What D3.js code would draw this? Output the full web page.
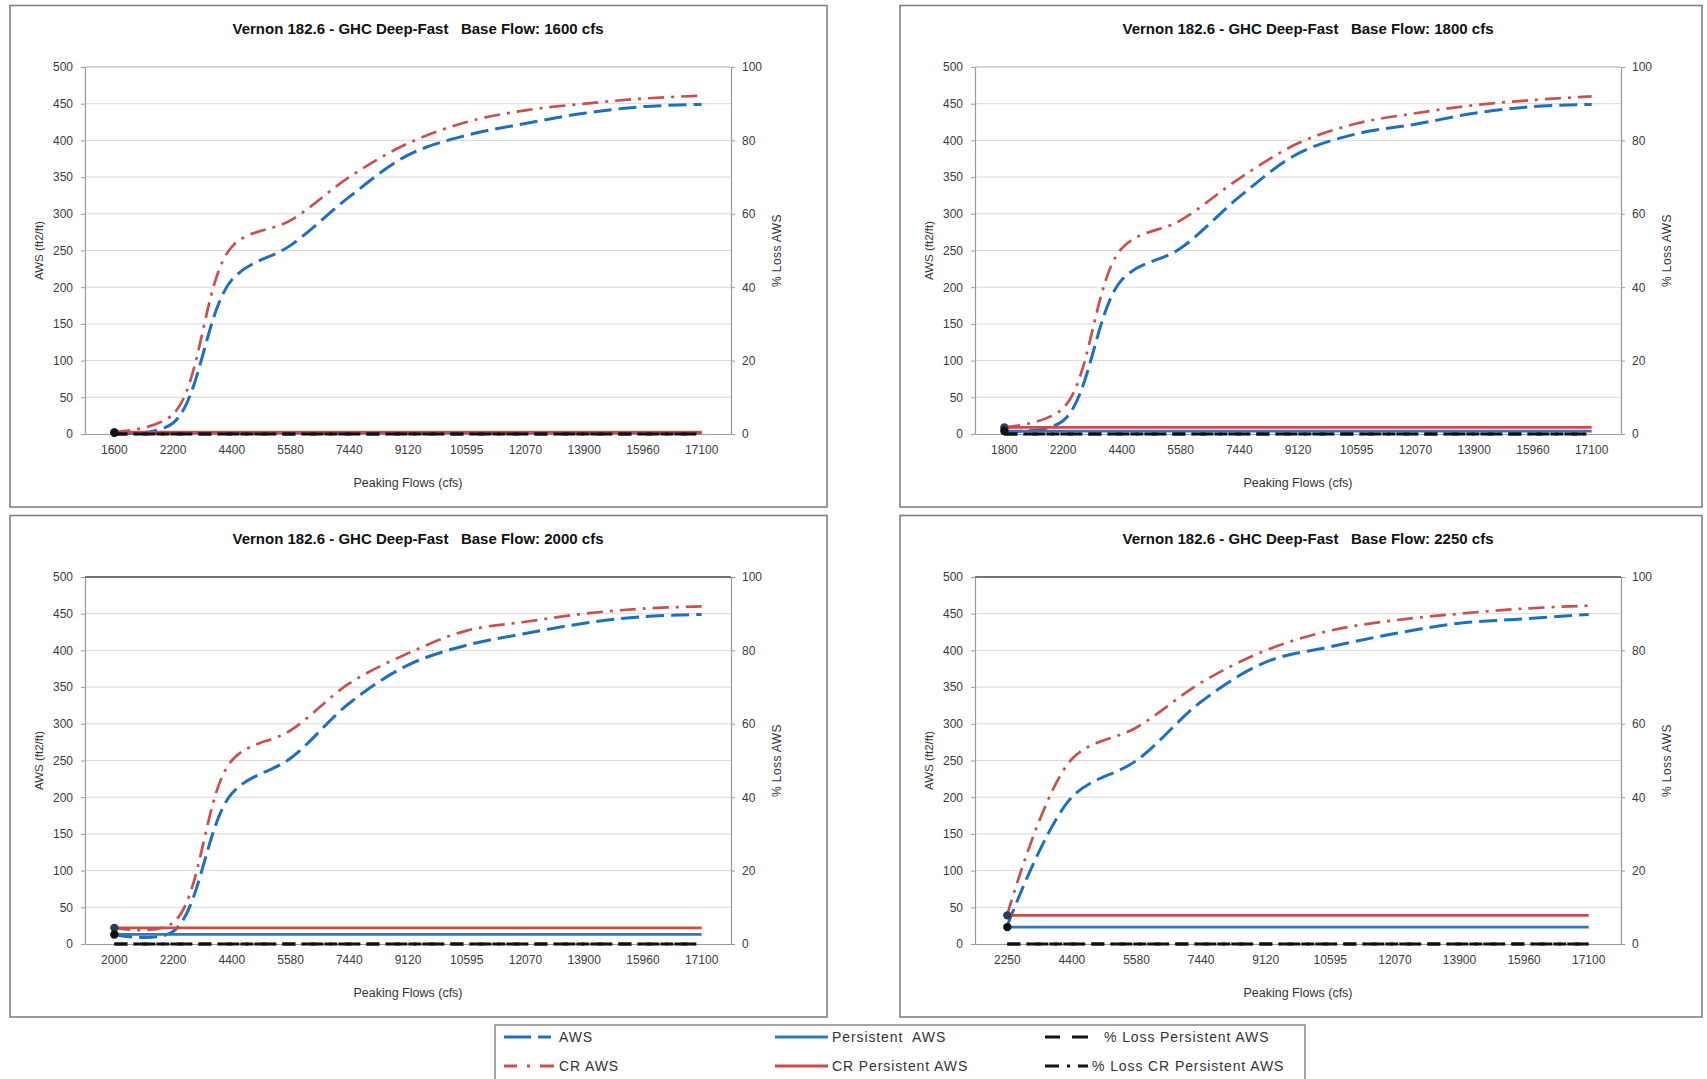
<!DOCTYPE html>
<html><head><meta charset="utf-8">
<script src="https://cdn.jsdelivr.net/npm/d3@7"></script>
<style>
html,body{margin:0;padding:0;background:#fff;}
svg{display:block;}
text{font-family:"Liberation Sans",Arial,sans-serif;white-space:pre;}
</style></head><body>
<svg id="chart" width="1707" height="1079"></svg>
<script>
// ---------------- DATA ----------------
const categories1600 = ["1600","2200","4400","5580","7440","9120","10595","12070","13900","15960","17100"];
const categories1800 = ["1800","2200","4400","5580","7440","9120","10595","12070","13900","15960","17100"];
const categories2000 = ["2000","2200","4400","5580","7440","9120","10595","12070","13900","15960","17100"];
const categories2250 = ["2250","4400","5580","7440","9120","10595","12070","13900","15960","17100"];

const aws1600 = [1, 15, 210, 257, 323, 380, 407, 423, 437, 446, 449];
const crAws1600 = [2.5, 27, 255, 291, 350, 396, 425, 441, 450, 457, 461];
const persistent1600 = [1.5, 1.5, 1.5, 1.5, 1.5, 1.5, 1.5, 1.5, 1.5, 1.5, 1.5];
const crPersistent1600 = [2.5, 2.5, 2.5, 2.5, 2.5, 2.5, 2.5, 2.5, 2.5, 2.5, 2.5];
const lossPersistent1600 = [0, 0, 0, 0, 0, 0, 0, 0, 0, 0, 0];
const lossCrPersistent1600 = [0, 0, 0, 0, 0, 0, 0, 0, 0, 0, 0];

const aws1800 = [4, 18, 210, 253, 323, 382, 409, 422, 437, 446, 449];
const crAws1800 = [9, 35, 253, 291, 348, 396, 423, 437, 448, 455, 460];
const persistent1800 = [4, 4, 4, 4, 4, 4, 4, 4, 4, 4, 4];
const crPersistent1800 = [9, 9, 9, 9, 9, 9, 9, 9, 9, 9, 9];
const lossPersistent1800 = [0, 0, 0, 0, 0, 0, 0, 0, 0, 0, 0];
const lossCrPersistent1800 = [0, 0, 0, 0, 0, 0, 0, 0, 0, 0, 0];

const aws2000 = [13, 17, 205, 253, 328, 380, 407, 423, 437, 446, 449];
const crAws2000 = [22, 29, 250, 291, 355, 396, 427, 439, 450, 457, 460];
const persistent2000 = [13, 13, 13, 13, 13, 13, 13, 13, 13, 13, 13];
const crPersistent2000 = [22, 22, 22, 22, 22, 22, 22, 22, 22, 22, 22];
const lossPersistent2000 = [0, 0, 0, 0, 0, 0, 0, 0, 0, 0, 0];
const lossCrPersistent2000 = [0, 0, 0, 0, 0, 0, 0, 0, 0, 0, 0];

const aws2250 = [25, 200, 250, 330, 384, 405, 423, 437, 443, 449];
const crAws2250 = [40, 252, 295, 356, 400, 427, 441, 450, 457, 461];
const persistent2250 = [23, 23, 23, 23, 23, 23, 23, 23, 23, 23];
const crPersistent2250 = [39, 39, 39, 39, 39, 39, 39, 39, 39, 39];
const lossPersistent2250 = [0, 0, 0, 0, 0, 0, 0, 0, 0, 0];
const lossCrPersistent2250 = [0, 0, 0, 0, 0, 0, 0, 0, 0, 0];

const baseFlows = ["1600", "1800", "2000", "2250"];
const awsTicks = [0, 50, 100, 150, 200, 250, 300, 350, 400, 450, 500];
const lossTicks = [0, 20, 40, 60, 80, 100];
const seriesNames = ["AWS", "CR AWS", "Persistent  AWS", "CR Persistent AWS", "% Loss Persistent AWS", "% Loss CR Persistent AWS"];

const panelsData = [
  {base: baseFlows[0], categories: categories1600, series: [aws1600, crAws1600, persistent1600, crPersistent1600, lossPersistent1600, lossCrPersistent1600]},
  {base: baseFlows[1], categories: categories1800, series: [aws1800, crAws1800, persistent1800, crPersistent1800, lossPersistent1800, lossCrPersistent1800]},
  {base: baseFlows[2], categories: categories2000, series: [aws2000, crAws2000, persistent2000, crPersistent2000, lossPersistent2000, lossCrPersistent2000]},
  {base: baseFlows[3], categories: categories2250, series: [aws2250, crAws2250, persistent2250, crPersistent2250, lossPersistent2250, lossCrPersistent2250]}
];

// ---------------- STYLE / LAYOUT ----------------
const seriesStyle = [
  {color: "#1f6fc0", width: 3, dash: "18,7", axis: 0, curve: true},
  {color: "#c8504f", width: 2.7, dash: "16,7,3,7", axis: 0, curve: true},
  {color: "#2a78c2", width: 2.8, dash: null, axis: 0, curve: false},
  {color: "#cc4a4a", width: 2.8, dash: null, axis: 0, curve: false},
  {color: "#111111", width: 2.8, dash: "13,8", axis: 1, curve: false},
  {color: "#111111", width: 2.8, dash: "13,6,3,6", axis: 1, curve: false}
];
const layouts = [
  {dx: 0,   dy: 0,   bw: 817, topColor: "#c4c4c4"},
  {dx: 890, dy: 0,   bw: 802, topColor: "#c4c4c4"},
  {dx: 0,   dy: 510, bw: 817, topColor: "#444444"},
  {dx: 890, dy: 510, bw: 802, topColor: "#444444"}
];

const svg = d3.select("#chart");

function drawPanel(d, L) {
  const g = svg.append("g").attr("transform", `translate(${L.dx},${L.dy})`);
  const left = 85, right = 731, top = 67, bottom = 434;

  g.append("rect").attr("x", 10).attr("y", 5.5).attr("width", L.bw).attr("height", 501.5)
    .attr("fill", "#fff").attr("stroke", "#808080").attr("stroke-width", 1.6);

  const x = d3.scaleBand().domain(d.categories).range([left, right]);
  const cx = c => x(c) + x.bandwidth() / 2;
  const y = d3.scaleLinear().domain([0, 500]).range([bottom, top]);
  const y2 = d3.scaleLinear().domain([0, 100]).range([bottom, top]);

  // gridlines
  g.append("g").selectAll("line").data(awsTicks.filter(t => t > 0 && t < 500)).join("line")
    .attr("x1", left).attr("x2", right).attr("y1", t => y(t)).attr("y2", t => y(t))
    .attr("stroke", "#d9d9d9").attr("stroke-width", 1);
  g.append("line").attr("x1", left).attr("x2", right).attr("y1", y(500)).attr("y2", y(500))
    .attr("stroke", L.topColor).attr("stroke-width", 1.3);

  // axes
  const ax = g.append("g").attr("transform", `translate(${left},0)`)
    .call(d3.axisLeft(y).tickValues(awsTicks).tickSize(4).tickSizeOuter(0).tickPadding(8));
  const ax2 = g.append("g").attr("transform", `translate(${right},0)`)
    .call(d3.axisRight(y2).tickValues(lossTicks).tickSize(4).tickSizeOuter(0).tickPadding(7));
  const axb = g.append("g").attr("transform", `translate(0,${bottom})`)
    .call(d3.axisBottom(x).tickSize(0).tickPadding(11));
  [ax, ax2, axb].forEach(a => {
    a.select(".domain").attr("stroke", "#9a9a9a").attr("stroke-width", 1.2);
    a.selectAll(".tick line").attr("stroke", "#9a9a9a");
    a.selectAll("text").attr("fill", "#3a3a3a").style("font-size", "12px")
      .style("font-family", '"Liberation Sans", Arial, sans-serif');
  });

  // series
  d.series.forEach((vals, si) => {
    const st = seriesStyle[si];
    const sc = st.axis === 0 ? y : y2;
    const line = d3.line().x((v, i) => cx(d.categories[i])).y(v => sc(v))
      .curve(st.curve ? d3.curveCatmullRom.alpha(0.5) : d3.curveLinear);
    g.append("path").datum(vals).attr("d", line).attr("fill", "none")
      .attr("stroke", st.color).attr("stroke-width", st.width)
      .attr("stroke-dasharray", st.dash).attr("stroke-linecap", "butt");
  });

  // first-point markers
  const c0 = d.categories[0];
  g.append("circle").attr("cx", cx(c0)).attr("cy", y(d.series[3][0])).attr("r", 4.2).attr("fill", "#2d3b55");
  g.append("circle").attr("cx", cx(c0)).attr("cy", y(d.series[2][0])).attr("r", 4.2).attr("fill", "#111");

  // texts
  g.append("text").attr("x", 418).attr("y", 28).attr("text-anchor", "middle").attr("dominant-baseline", "central")
    .style("font-size", "15px").style("font-weight", "bold").attr("fill", "#111")
    .text(`Vernon 182.6 - GHC Deep-Fast   Base Flow: ${d.base} cfs`);
  g.append("text").attr("x", (left + right) / 2).attr("y", 483).attr("text-anchor", "middle")
    .attr("dominant-baseline", "central").style("font-size", "12.5px").attr("fill", "#333")
    .text("Peaking Flows (cfs)");
  g.append("text").attr("transform", `translate(39,${(top + bottom) / 2}) rotate(-90)`).attr("text-anchor", "middle")
    .attr("dominant-baseline", "central").style("font-size", "11.5px").attr("fill", "#333")
    .text("AWS (ft2/ft)");
  g.append("text").attr("transform", `translate(777,${(top + bottom) / 2}) rotate(-90)`).attr("text-anchor", "middle")
    .attr("dominant-baseline", "central").style("font-size", "12px").style("letter-spacing", "0.4px").attr("fill", "#333")
    .text("% Loss AWS");
}

panelsData.forEach((d, i) => drawPanel(d, layouts[i]));

// ---------------- LEGEND ----------------
const lg = svg.append("g");
lg.append("rect").attr("x", 495).attr("y", 1025).attr("width", 810).attr("height", 62)
  .attr("fill", "#fff").attr("stroke", "#808080").attr("stroke-width", 1.4);
const legendPos = [
  {x1: 504, x2: 555, tx: 559, ty: 1037, dash: "27,7,13,100"},
  {x1: 504, x2: 555, tx: 559, ty: 1066, dash: "13,10,3,10,14"},
  {x1: 775, x2: 828, tx: 832, ty: 1037, dash: null},
  {x1: 775, x2: 828, tx: 832, ty: 1066, dash: null},
  {x1: 1045, x2: 1088, tx: 1104, ty: 1037, dash: "15,12,16"},
  {x1: 1045, x2: 1088, tx: 1092, ty: 1066, dash: "14,8,3,8,14"}
];
seriesNames.forEach((name, i) => {
  const p = legendPos[i], st = seriesStyle[i];
  lg.append("line").attr("x1", p.x1).attr("x2", p.x2).attr("y1", p.ty).attr("y2", p.ty)
    .attr("stroke", st.color).attr("stroke-width", 3).attr("stroke-dasharray", p.dash);
  lg.append("text").attr("x", p.tx).attr("y", p.ty).attr("dominant-baseline", "central")
    .style("font-size", "14px").style("letter-spacing", "0.9px").attr("fill", "#333").text(name);
});
</script>
</body></html>
